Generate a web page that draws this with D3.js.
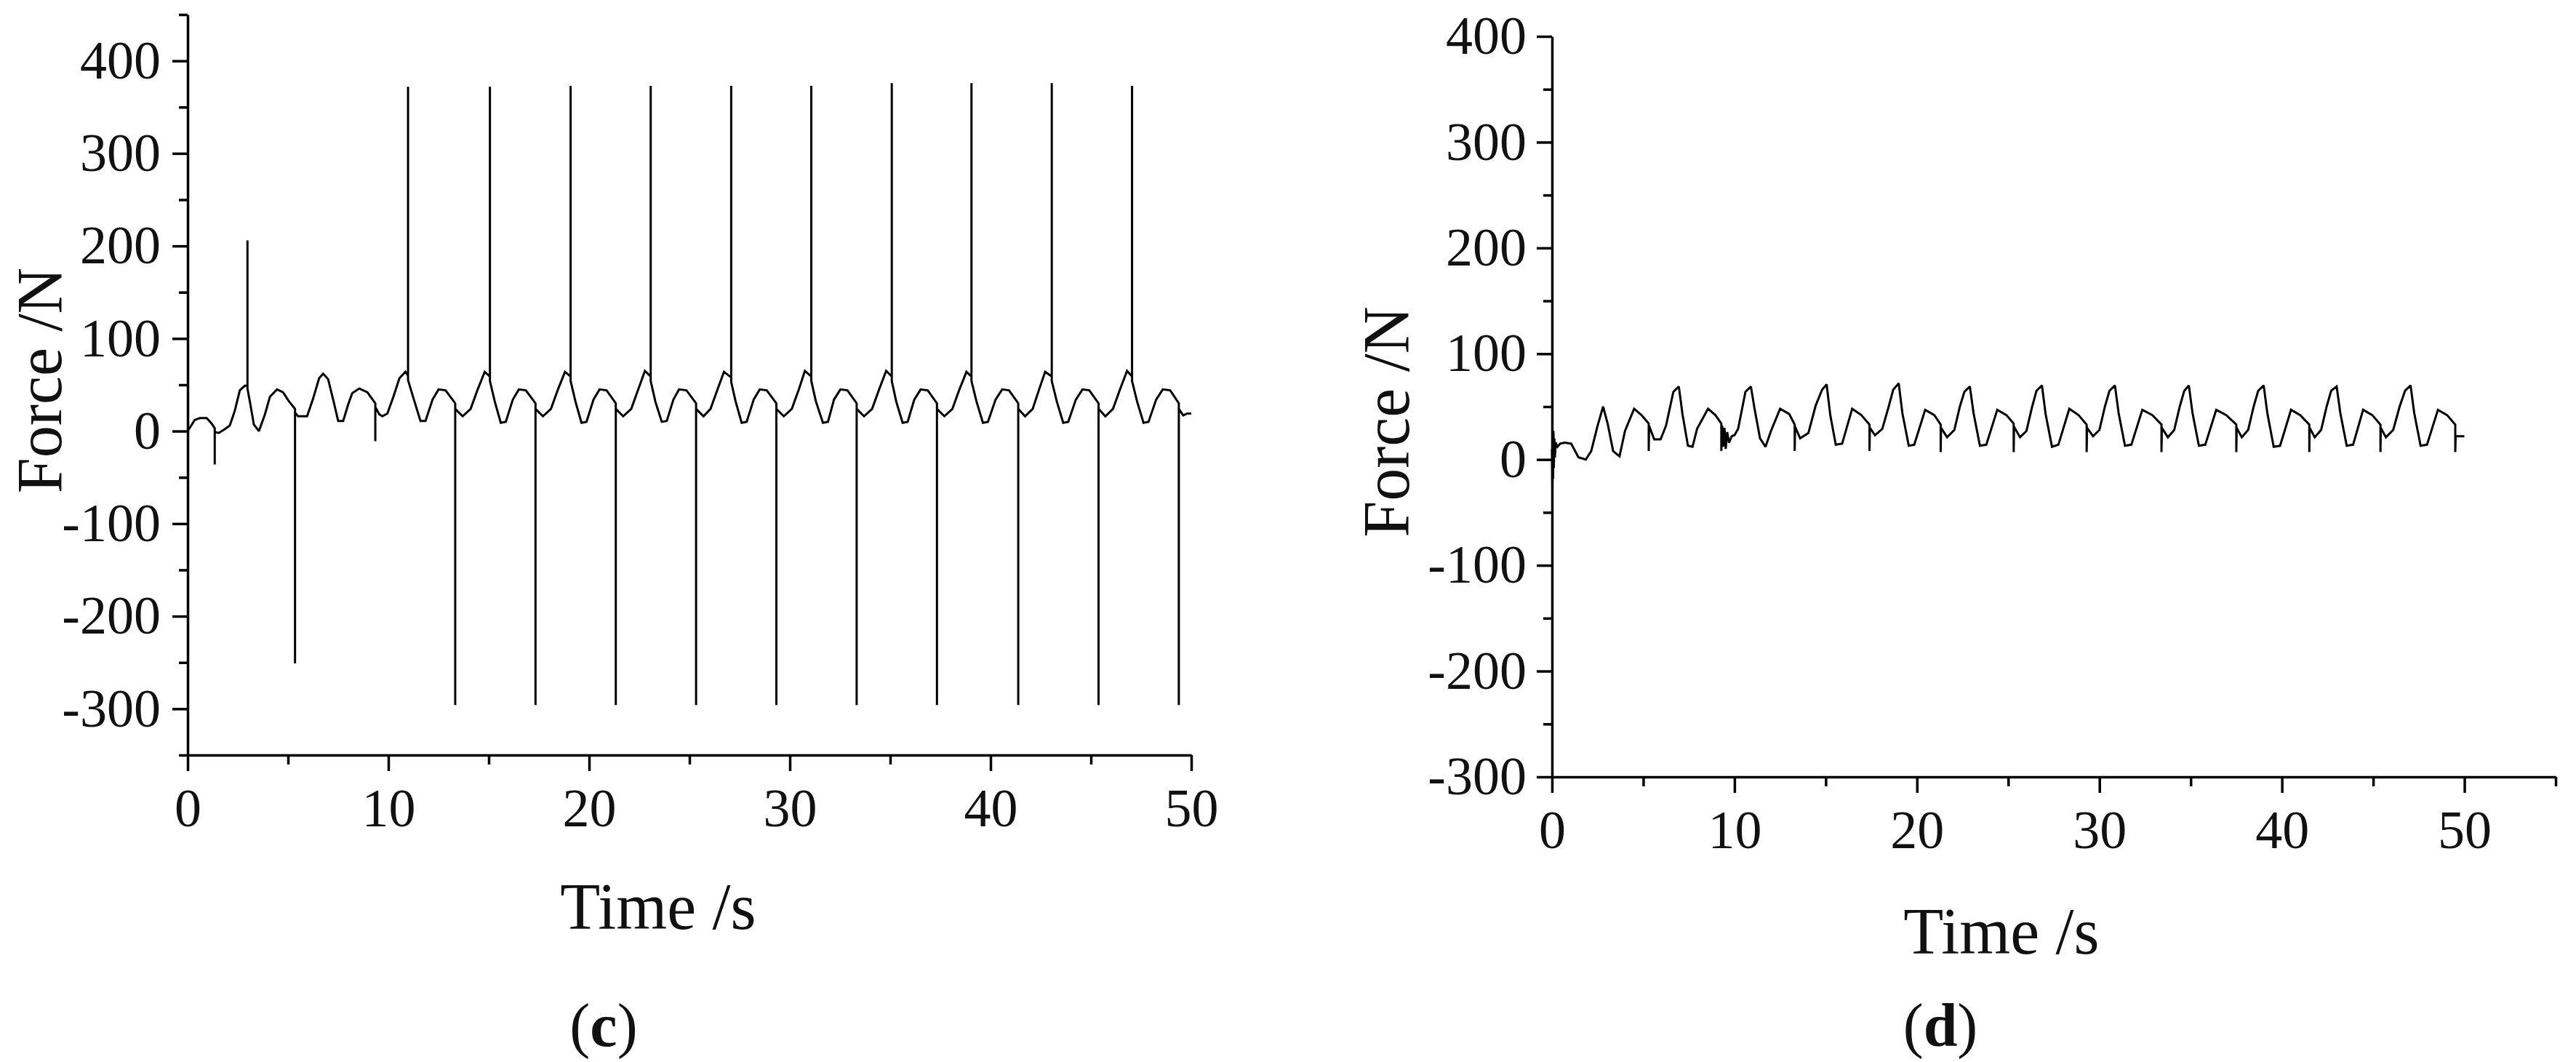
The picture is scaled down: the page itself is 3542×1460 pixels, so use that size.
<!DOCTYPE html>
<html>
<head>
<meta charset="utf-8">
<script src="https://cdn.jsdelivr.net/npm/d3@7"></script>
<style>
  html, body { margin: 0; padding: 0; background: #fff; }
  svg { display: block; }
  text { font-family: "Liberation Serif", "Times New Roman", serif; fill: #111; }
</style>
</head>
<body>
<svg id="chart" width="3542" height="1460"></svg>
<script>
// ---------- data (time s, force N) ----------
const seriesC = [
[0.00,0],[0.15,5],[0.35,12],[0.60,14],[0.95,14],[1.20,8],[1.35,3],[1.35,-36],[1.35,-1],[1.55,-2],[1.85,2],[2.10,6],[2.35,22],[2.60,44],[2.85,49],[2.98,49],[2.98,206],[2.98,46],[3.10,32],[3.30,7],[3.55,0],[3.85,18],[4.10,37],[4.45,45],[4.75,42],[5.05,32],
[5.35,24],[5.35,-251],[5.35,20],[5.50,16],[5.95,16],[6.25,35],[6.55,57],[6.75,62],[7.00,56],[7.25,34],[7.50,11],[7.75,11],[8.00,29],[8.20,41],[8.55,46],[8.95,42],
[9.35,30],[9.35,-11],[9.35,26],[9.55,18],[9.70,16],[9.95,19],[10.25,37],[10.55,57],[10.85,64],[10.98,60],[10.98,372],[10.98,55],[11.30,32],[11.60,11],[11.85,11],[12.20,34],[12.50,45],[12.85,44],
[13.33,30],[13.33,-296],[13.33,24],[13.70,16],[14.10,24],[14.45,45],[14.80,64],[15.06,59],[15.06,372],[15.06,54],[15.30,32],[15.60,9],[15.85,10],[16.20,34],[16.50,45],[16.85,44],
[17.33,30],[17.33,-296],[17.33,24],[17.70,16],[18.10,24],[18.45,45],[18.80,64],[19.08,59],[19.08,373],[19.08,54],[19.32,32],[19.62,9],[19.87,10],[20.22,34],[20.52,45],[20.87,44],
[21.33,30],[21.33,-296],[21.33,24],[21.70,16],[22.10,24],[22.45,45],[22.78,65],[23.07,59],[23.07,373],[23.07,54],[23.30,32],[23.62,10],[23.87,11],[24.20,34],[24.48,45],[24.85,44],
[25.33,30],[25.33,-296],[25.33,24],[25.70,16],[26.05,24],[26.40,45],[26.72,64],[27.08,58],[27.08,373],[27.08,53],[27.30,32],[27.60,9],[27.85,10],[28.20,34],[28.50,45],[28.85,44],
[29.33,30],[29.33,-296],[29.33,24],[29.70,16],[30.10,24],[30.45,45],[30.75,65],[31.07,59],[31.07,373],[31.07,54],[31.30,32],[31.65,9],[31.90,10],[32.20,34],[32.52,45],[32.87,44],
[33.33,30],[33.33,-296],[33.33,24],[33.70,16],[34.10,24],[34.45,45],[34.80,65],[35.08,59],[35.08,376],[35.08,54],[35.30,32],[35.62,9],[35.87,10],[36.20,34],[36.52,45],[36.87,44],
[37.33,30],[37.33,-296],[37.33,24],[37.70,16],[38.10,24],[38.45,45],[38.80,64],[39.05,59],[39.05,376],[39.05,54],[39.30,32],[39.62,9],[39.87,10],[40.25,34],[40.58,45],[40.92,44],
[41.38,30],[41.38,-296],[41.38,24],[41.72,16],[42.10,24],[42.42,45],[42.72,64],[43.05,59],[43.05,376],[43.05,54],[43.30,32],[43.62,9],[43.87,10],[44.25,34],[44.58,45],[44.92,44],
[45.38,30],[45.38,-296],[45.38,24],[45.72,16],[46.10,24],[46.45,45],[46.80,65],[47.05,59],[47.05,373],[47.05,54],[47.30,32],[47.62,9],[47.87,10],[48.25,34],[48.58,45],[48.95,44],
[49.38,30],[49.38,-296],[49.38,24],[49.60,17],[49.80,19],[50.00,19]
];

const seriesD = [
[0.00,10],[0.02,-26],[0.04,24],[0.06,-18],[0.08,27],[0.10,-8],[0.13,20],[0.16,2],[0.20,16],[0.30,12],[0.45,15],[0.70,16],[1.05,15],[1.45,2],[1.85,0],[2.15,8],[2.50,32],[2.80,50],[3.05,34],[3.35,8],[3.70,3],[4.00,27],[4.50,48],[4.90,42],
[5.30,34],[5.30,8],[5.32,32],[5.60,19],[5.95,19],[6.25,32],[6.65,64],[6.95,69],[7.15,43],[7.45,13],[7.70,12],[7.95,29],[8.55,48],[8.95,42],
[9.28,34],[9.28,8],[9.32,32],[9.38,12],[9.45,30],[9.52,10],[9.60,26],[9.70,16],[9.85,22],[10.00,23],[10.20,29],[10.60,64],[10.90,69],[11.10,48],[11.40,20],[11.70,12],[12.00,27],[12.50,48],[13.00,43],
[13.30,33],[13.30,8],[13.32,31],[13.60,20],[14.05,25],[14.45,51],[14.80,66],[15.05,71],[15.25,42],[15.55,14],[15.90,15],[16.45,48],[16.95,42],
[17.40,33],[17.40,8],[17.42,30],[17.70,23],[18.10,29],[18.45,50],[18.70,66],[19.00,72],[19.20,44],[19.55,13],[19.85,14],[20.45,47],[20.95,42],
[21.30,33],[21.30,7],[21.32,30],[21.65,21],[22.05,28],[22.35,50],[22.60,64],[22.90,69],[23.10,44],[23.45,13],[23.80,14],[24.40,47],[24.90,42],
[25.30,34],[25.30,7],[25.32,31],[25.65,21],[26.00,27],[26.30,49],[26.55,65],[26.85,70],[27.05,43],[27.40,12],[27.75,14],[28.35,48],[28.85,42],
[29.30,33],[29.30,7],[29.32,30],[29.65,22],[30.00,28],[30.30,50],[30.55,65],[30.85,70],[31.05,44],[31.40,13],[31.75,14],[32.35,47],[32.90,42],
[33.40,33],[33.40,7],[33.42,30],[33.75,21],[34.10,28],[34.40,50],[34.65,65],[34.90,70],[35.10,44],[35.45,13],[35.80,14],[36.40,47],[36.95,42],
[37.50,33],[37.50,7],[37.52,30],[37.80,21],[38.15,28],[38.45,50],[38.70,65],[39.00,70],[39.20,44],[39.55,12],[39.90,13],[40.50,47],[41.00,42],
[41.50,33],[41.50,7],[41.52,30],[41.80,21],[42.15,28],[42.45,50],[42.70,65],[43.00,69],[43.20,44],[43.55,13],[43.90,14],[44.45,47],[44.95,42],
[45.40,33],[45.40,7],[45.42,30],[45.70,21],[46.10,28],[46.45,50],[46.75,65],[47.05,70],[47.25,44],[47.60,13],[47.95,14],[48.55,47],[49.05,42],
[49.50,33],[49.50,7],[49.52,22],[50.00,22]
];

const xMajorTicks = [0, 10, 20, 30, 40, 50];
const xMinorTicksC = [5, 15, 25, 35, 45];
const xMinorTicksD = [5, 15, 25, 35, 45, 55];
const yMajorTicks = [-300, -200, -100, 0, 100, 200, 300, 400];
const yMinorTicksC = [-350, -250, -150, -50, 50, 150, 250, 350, 450];
const yMinorTicksD = [-250, -150, -50, 50, 150, 250, 350];
const xDomainC = [0, 50], yDomainC = [-350, 450];
const xDomainD = [0, 55], yDomainD = [-300, 400];
const xTitle = "Time /s", yTitle = "Force /N";

// ---------- drawing ----------
const svg = d3.select("#chart");

function panel(cfg) {
  const x = d3.scaleLinear().domain(cfg.xDomain).range(cfg.xRange);
  const y = d3.scaleLinear().domain(cfg.yDomain).range(cfg.yRange);
  const g = svg.append("g");

  const yBase = cfg.yRange[0], xBase = cfg.xRange[0];

  // minor ticks
  g.append("g").attr("transform", `translate(0,${yBase})`)
    .call(d3.axisBottom(x).tickValues(cfg.xMinor).tickSize(13).tickSizeOuter(0).tickFormat(""))
    .call(s => s.select(".domain").remove());
  g.append("g").attr("transform", `translate(${xBase},0)`)
    .call(d3.axisLeft(y).tickValues(cfg.yMinor).tickSize(12).tickSizeOuter(0).tickFormat(""))
    .call(s => s.select(".domain").remove());

  // major axes
  g.append("g").attr("transform", `translate(0,${yBase})`)
    .call(d3.axisBottom(x).tickValues(xMajorTicks).tickSize(22).tickSizeOuter(0).tickPadding(23).tickFormat(d3.format("d")));
  g.append("g").attr("transform", `translate(${xBase},0)`)
    .call(d3.axisLeft(y).tickValues(yMajorTicks).tickSize(21).tickSizeOuter(0).tickPadding(cfg.yPad).tickFormat(d => d < 0 ? "-" + Math.abs(d) : String(d)));

  g.selectAll(".domain").attr("stroke", "#000").attr("stroke-width", 3.5);
  g.selectAll(".tick line").attr("stroke", "#000").attr("stroke-width", 3.5);
  g.selectAll(".tick text").attr("font-size", 74).attr("font-family", "Liberation Serif").attr("fill", "#111");

  // data line
  const line = d3.line().x(d => x(d[0])).y(d => y(d[1]));
  g.append("path").datum(cfg.data)
    .attr("d", line)
    .attr("fill", "none")
    .attr("stroke", "#000")
    .attr("stroke-width", 3)
    .attr("stroke-linejoin", "miter")
    .attr("stroke-miterlimit", 2);

  // titles
  g.append("text")
    .attr("x", cfg.xTitlePos[0]).attr("y", cfg.xTitlePos[1])
    .attr("text-anchor", "middle").attr("font-size", 90)
    .text(xTitle);
  g.append("text")
    .attr("transform", `translate(${cfg.yTitlePos[0]},${cfg.yTitlePos[1]}) rotate(-90)`)
    .attr("text-anchor", "middle").attr("font-size", cfg.yTitleSize)
    .text(yTitle);

  const lab = g.append("text")
    .attr("x", cfg.labelPos[0]).attr("y", cfg.labelPos[1])
    .attr("text-anchor", "middle").attr("font-size", 84);
  lab.append("tspan").text("(");
  lab.append("tspan").attr("font-weight", "bold").text(cfg.label);
  lab.append("tspan").text(")");
}

panel({
  data: seriesC,
  xDomain: xDomainC, yDomain: yDomainC,
  xRange: [258, 1638], yRange: [1038, 20],
  xMinor: xMinorTicksC, yMinor: yMinorTicksC,
  yPad: 16,
  xTitlePos: [905, 1277],
  yTitlePos: [84, 523],
  yTitleSize: 88,
  labelPos: [830, 1438],
  label: "c"
});

panel({
  data: seriesD,
  xDomain: xDomainD, yDomain: yDomainD,
  xRange: [2134, 3514], yRange: [1068, 50],
  xMinor: xMinorTicksD, yMinor: yMinorTicksD,
  yPad: 14,
  xTitlePos: [2752, 1311],
  yTitlePos: [1937, 580],
  yTitleSize: 90,
  labelPos: [2668, 1438],
  label: "d"
});
</script>
</body>
</html>
